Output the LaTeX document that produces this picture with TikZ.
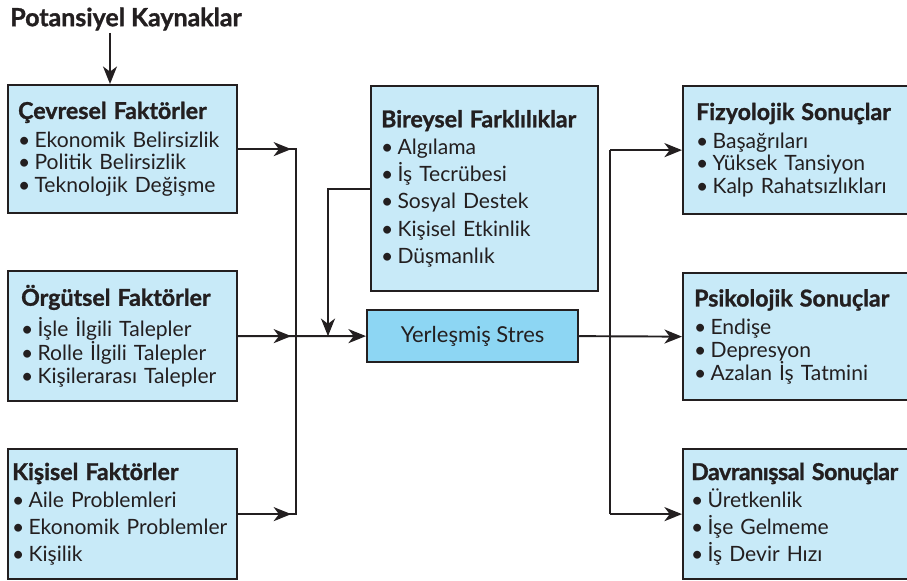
\documentclass[tikz,border=0pt]{standalone}
\usepackage{fontspec}
\setmainfont{Lato}[BoldFeatures={FakeBold=1.2}]
\usetikzlibrary{arrows.meta}
\definecolor{acikmavi}{HTML}{C8EAF8}
\definecolor{koyumavi}{HTML}{8DD6F3}
\definecolor{cizgi}{HTML}{231F20}
\newcommand{\baslikyazi}{\fontsize{13.2}{15}\selectfont\bfseries}
\newcommand{\madde}{•\hspace{0.2em}}
\begin{document}
\begin{tikzpicture}[x=0.02cm, y=-0.02cm,
    kutu/.style={draw=cizgi, line width=1.3pt, fill=acikmavi, anchor=north west,
      align=left, inner ysep=0pt, text=cizgi},
    sik/.style={font=\fontsize{12}{13}\selectfont},
    genis/.style={font=\fontsize{12}{15.5}\selectfont},
    ok/.style={draw=cizgi, line width=1.1pt, -{Stealth[length=10pt,width=8pt,inset=3pt]}},
    hat/.style={draw=cizgi, line width=1.1pt}]
  \useasboundingbox (0,0) rectangle (907,581);
  \node[anchor=west, font=\fontsize{14.2}{16}\selectfont\bfseries, text=cizgi, inner sep=0pt] (kaynak) at (10,19) {Potansiyel Kaynaklar};
  \node[kutu, sik, inner xsep=0.2cm, text width=4.18cm, minimum height=2.56cm] (cevre) at (7,84)
    {{\baslikyazi Çevresel Faktörler}\\[3pt] \madde Ekonomik Belirsizlik\\ \madde Politik Belirsizlik\\ \madde Teknolojik Değişme};
  \node[kutu, sik, inner xsep=0.26cm, text width=4.06cm, minimum height=2.6cm] (orgut) at (7,270)
    {{\baslikyazi Örgütsel Faktörler}\\[3pt] \madde İşle İlgili Talepler\\ \madde Rolle İlgili Talepler\\ \madde Kişilerarası Talepler};
  \node[kutu, genis, inner xsep=0.08cm, text width=4.42cm, minimum height=2.6cm] (kisi) at (7,448)
    {{\baslikyazi Kişisel Faktörler}\\ \madde Aile Problemleri\\ \madde Ekonomik Problemler\\ \madde Kişilik};
  \node[kutu, genis, inner xsep=0.2cm, text width=4.14cm, minimum height=4.1cm] (birey) at (370,85)
    {{\baslikyazi Bireysel Farklılıklar}\\ \madde Algılama\\ \madde İş Tecrübesi\\ \madde Sosyal Destek\\ \madde Kişisel Etkinlik\\ \madde Düşmanlık};
  \node[draw=cizgi, line width=1.3pt, fill=koyumavi, anchor=north west, text=cizgi,
    font=\fontsize{12.5}{14}\selectfont, minimum width=4.22cm, minimum height=1.04cm] (stres) at (366,309) {Yerleşmiş Stres};
  \node[kutu, sik, inner xsep=0.26cm, text width=5cm, minimum height=2.56cm] (fizyo) at (682,85)
    {{\baslikyazi Fizyolojik Sonuçlar}\\[3pt] \madde Başağrıları\\ \madde Yüksek Tansiyon\\ \madde Kalp Rahatsızlıkları};
  \node[kutu, sik, inner xsep=0.22cm, text width=5cm, minimum height=2.54cm] (psiko) at (682,272)
    {{\baslikyazi Psikolojik Sonuçlar}\\[3pt] \madde Endişe\\ \madde Depresyon\\ \madde Azalan İş Tatmini};
  \node[kutu, genis, inner xsep=0.16cm, text width=5cm, minimum height=2.6cm] (davra) at (682,448)
    {{\baslikyazi\addfontfeature{LetterSpace=-2} Davranışsal Sonuçlar}\\ \madde Üretkenlik\\ \madde İşe Gelmeme\\ \madde İş Devir Hızı};
  \coordinate (topla) at (296,0);
  \coordinate (dagit) at (610,0);
  \coordinate (birle) at (328,0);
  \coordinate (kaynakok) at (110,33);
  \draw[ok] (kaynakok) -- (kaynakok |- cevre.north);
  \draw[hat] (cevre.east) -- (topla |- cevre.east) -- (topla |- kisi.east) -- (kisi.east);
  \draw[ok] (cevre.east) -- ++(1.06cm,0);
  \draw[ok] (orgut.east) -- ++(1.06cm,0);
  \draw[ok] (kisi.east) -- ++(1.06cm,0);
  \draw[ok] (orgut.east) -- (stres.west);
  \draw[ok] (birey.west) -- (birle |- birey.west) -- (birle |- stres.west);
  \draw[ok] (stres.east) -- (psiko.west);
  \draw[hat] (dagit |- fizyo.west) -- (dagit |- davra.west);
  \draw[ok] (dagit |- fizyo.west) -- (fizyo.west);
  \draw[ok] (dagit |- davra.west) -- (davra.west);
\end{tikzpicture}
\end{document}
